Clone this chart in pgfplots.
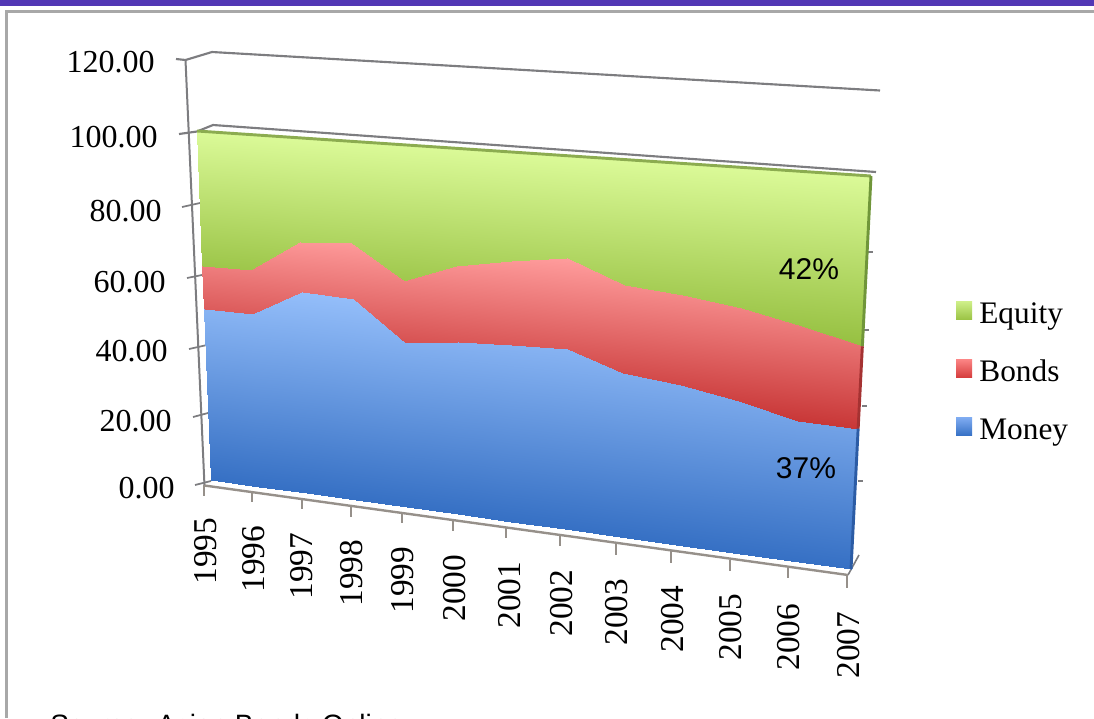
\documentclass[border=0pt]{standalone}
\usepackage{fontspec}
\usepackage{pgfplots}
\usepackage{pgfplotstable}
\pgfplotsset{compat=1.18}
\setmainfont{Liberation Serif}
\newfontfamily\arialfont{Liberation Sans}

% Stacked shares per year (percent): each year has the upper and the lower
% level of the band, in that order.
\pgfplotstableread{
year value
1995 100
1995 62.5
1996 100
1996 62.6
1997 100
1997 71.7
1998 100
1998 72.6
1999 100
1999 63.6
2000 100
2000 69.0
2001 100
2001 71.6
2002 100
2002 73.7
2003 100
2003 67.9
2004 100
2004 66.7
2005 100
2005 64.8
2006 100
2006 61.6
2007 100
2007 58.0
}\equitytable
\pgfplotstableread{
year value
1995 62.5
1995 50.2
1996 62.6
1996 50.2
1997 71.7
1997 57.8
1998 72.6
1998 57.3
1999 63.6
1999 46.6
2000 69.0
2000 48.4
2001 71.6
2001 49.1
2002 73.7
2002 49.6
2003 67.9
2003 44.7
2004 66.7
2004 43.2
2005 64.8
2005 40.7
2006 61.6
2006 37.2
2007 58.0
2007 37.0
}\bondstable
\pgfplotstableread{
year value
1995 50.2
1995 0
1996 50.2
1996 0
1997 57.8
1997 0
1998 57.3
1998 0
1999 46.6
1999 0
2000 48.4
2000 0
2001 49.1
2001 0
2002 49.6
2002 0
2003 44.7
2003 0
2004 43.2
2004 0
2005 40.7
2005 0
2006 37.2
2006 0
2007 37.0
2007 0
}\moneytable
% Edges of the stack
\pgfplotstableread{
year value
1995 100
2007 100
}\topedge
\pgfplotstableread{
year value
2007 100
2007 58
}\equityend
\pgfplotstableread{
year value
2007 58
2007 37
}\bondsend
\pgfplotstableread{
year value
2007 37
2007 0
}\moneyend

% Projection of the chart wall (year, level) onto the sheet, in sheet units.
\pgfmathdeclarefunction{wallx}{2}{%
  \pgfmathparse{(540.15*(#1-1995)/12-23.25*#2/100+211)/(1-0.11734*(#1-1995)/12-0.04696*#2/100)}}
\pgfmathdeclarefunction{wally}{2}{%
  \pgfmathparse{(22.23*(#1-1995)/12-355.15*#2/100+480)/(1-0.11734*(#1-1995)/12-0.04696*#2/100)}}
\newcommand\wallxexpr{wallx(\thisrow{year},\thisrow{value})}
\newcommand\wallyexpr{wally(\thisrow{year},\thisrow{value})}

\pgfplotsset{
  colormap={equitymap}{rgb255=(219,250,152) rgb255=(150,192,65)},
  colormap={bondsmap}{rgb255=(255,156,156) rgb255=(200,55,55)},
  colormap={moneymap}{rgb255=(148,190,250) rgb255=(54,112,196)},
}
\definecolor{framegray}{RGB}{168,168,168}
\definecolor{barpurple}{RGB}{83,56,181}
\definecolor{axisgray}{RGB}{125,125,128}
\definecolor{floorgray}{RGB}{150,144,138}
\definecolor{equitytop}{RGB}{205,238,135}
\definecolor{equitylow}{RGB}{156,196,70}
\definecolor{bondstop}{RGB}{250,130,130}
\definecolor{bondslow}{RGB}{214,62,62}
\definecolor{moneytop}{RGB}{125,170,240}
\definecolor{moneylow}{RGB}{56,114,198}
\definecolor{topgreen}{RGB}{140,172,80}
\definecolor{sidegreen}{RGB}{112,150,58}
\definecolor{sidered}{RGB}{165,50,50}
\definecolor{sideblue}{RGB}{44,92,165}

% Band shading runs over the band's own range of levels: #4 to #5
\newcommand\band[5]{%
  \addplot[surf, shader=interp, colormap name=#1, mesh/rows=13,
    point meta={(#4-\thisrow{value})/(#4-#5)},
    legend image code/.code={\path[draw=none, top color=#3top, bottom color=#3low]
      (0pt,-2.4pt) rectangle (12pt,10.4pt);
      \path[draw=none, fill=none] (0pt,0pt) -- (17.5pt,0pt);}]
    table[x expr=\wallxexpr, y expr=\wallyexpr] {#2};}
\newcommand\edge[2]{%
  \addplot[#1, line width=2.2pt, forget plot]
    table[x expr=\wallxexpr, y expr=\wallyexpr] {#2};}

\begin{document}
\begin{tikzpicture}
\useasboundingbox (0,0) rectangle (820.5pt,538.5pt);
\clip (0,0) rectangle (820.5pt,538.5pt);
\begin{axis}[
  at={(0,0)}, anchor=south west,
  scale only axis, width=820.5pt, height=538.5pt,
  xmin=0, xmax=1094, ymin=0, ymax=718, y dir=reverse,
  hide axis, clip=false,
  point meta min=0, point meta max=1,
  font=\fontsize{24}{28}\selectfont,
  legend style={
    at={(axis cs:956,300.5)}, anchor=north west, draw=none, fill=none,
    inner sep=0pt, outer sep=0pt, row sep=20.5pt,
    nodes={inner sep=0pt, text height=17pt, text depth=6pt},
    font=\fontsize{23.5}{27}\selectfont},
  legend cell align=left,
]
% Sheet furniture
\addplot[draw=none, fill=barpurple, forget plot] coordinates {(0,0) (1094,0) (1094,5.8) (0,5.8)} \closedcycle;
\addplot[framegray, line width=2pt, forget plot] coordinates {(6.5,718) (6.5,11.5) (1094,11.5)};

% Wall rules and value axis
\addplot[axisgray, line width=1.6pt, forget plot] coordinates {(176,59) (185.5,60) (212,52) (880,90.5)};
\addplot[axisgray, line width=1.6pt, forget plot] coordinates {(179,134) (197,131.5) (213,125) (876,172)};
\addplot[axisgray, line width=1.5pt, forget plot] coordinates {(185.5,60) (204.5,486)};
\addplot[axisgray, line width=1.3pt, forget plot] coordinates {(182,207) (200,203)};
\addplot[axisgray, line width=1.3pt, forget plot] coordinates {(187,278) (202,275)};
\addplot[axisgray, line width=1.3pt, forget plot] coordinates {(189,349) (207,345)};
\addplot[axisgray, line width=1.3pt, forget plot] coordinates {(193,417) (208,413)};
\addplot[axisgray, line width=1.3pt, forget plot] coordinates {(195,485) (211,481)};
% Stubs on the far edge
\addplot[axisgray, line width=1.2pt, forget plot] coordinates {(868,252) (873,252)};
\addplot[axisgray, line width=1.2pt, forget plot] coordinates {(864,330) (869,330)};
\addplot[axisgray, line width=1.2pt, forget plot] coordinates {(862,406) (867,406)};
\addplot[axisgray, line width=1.2pt, forget plot] coordinates {(858,481) (863,481)};
\addplot[axisgray, line width=1.2pt, forget plot] coordinates {(848,575) (859,555)};

% Stacked bands
\band{equitymap}{\equitytable}{equity}{100}{58}
\addlegendentry{Equity}
\band{bondsmap}{\bondstable}{bonds}{73.7}{37}
\addlegendentry{Bonds}
\band{moneymap}{\moneytable}{money}{57.8}{0}
\addlegendentry{Money}

% Lit top and dark end faces of the stack
\edge{topgreen}{\topedge}
\edge{sidegreen}{\equityend}
\edge{sidered}{\bondsend}
\edge{sideblue}{\moneyend}

% Floor rule and year ticks
\addplot[floorgray, line width=1.8pt, forget plot] coordinates {(204.5,485.5) (848,575)};
\addplot[floorgray, line width=1.3pt, forget plot] coordinates {(204,485) (204,496)};
\addplot[floorgray, line width=1.3pt, forget plot] coordinates {(251.7,492) (251.7,502)};
\addplot[floorgray, line width=1.3pt, forget plot] coordinates {(301.7,499) (301.7,509)};
\addplot[floorgray, line width=1.3pt, forget plot] coordinates {(351,506) (351,516.7)};
\addplot[floorgray, line width=1.3pt, forget plot] coordinates {(402,513) (402,523)};
\addplot[floorgray, line width=1.3pt, forget plot] coordinates {(453,520) (453,531)};
\addplot[floorgray, line width=1.3pt, forget plot] coordinates {(506,528) (506,538)};
\addplot[floorgray, line width=1.3pt, forget plot] coordinates {(560,535) (560,546)};
\addplot[floorgray, line width=1.3pt, forget plot] coordinates {(616,543) (616,555)};
\addplot[floorgray, line width=1.3pt, forget plot] coordinates {(671,551) (671,563)};
\addplot[floorgray, line width=1.3pt, forget plot] coordinates {(730,560) (730,571)};
\addplot[floorgray, line width=1.3pt, forget plot] coordinates {(788,568) (788,578)};
\addplot[floorgray, line width=1.3pt, forget plot] coordinates {(847,575) (847,588)};

% Value labels
\node[anchor=east, inner sep=0pt] at (axis cs:155,62) {120.00};
\node[anchor=east, inner sep=0pt] at (axis cs:158,137) {100.00};
\node[anchor=east, inner sep=0pt] at (axis cs:162,211) {80.00};
\node[anchor=east, inner sep=0pt] at (axis cs:166,282) {60.00};
\node[anchor=east, inner sep=0pt] at (axis cs:168,351) {40.00};
\node[anchor=east, inner sep=0pt] at (axis cs:172,421) {20.00};
\node[anchor=east, inner sep=0pt] at (axis cs:175,488) {0.00};

% Year labels
\begin{scope}[every node/.append style={rotate=90, inner sep=0pt, font=\fontsize{25}{29}\selectfont}]
\node at (axis cs:205.7,551) {1995};
\node at (axis cs:254,559) {1996};
\node at (axis cs:302,566) {1997};
\node at (axis cs:352,573) {1998};
\node at (axis cs:403,580) {1999};
\node at (axis cs:455,588) {2000};
\node at (axis cs:510,595) {2001};
\node at (axis cs:562,603) {2002};
\node at (axis cs:617,612) {2003};
\node at (axis cs:673,619) {2004};
\node at (axis cs:731,627) {2005};
\node at (axis cs:789,637) {2006};
\node at (axis cs:849,645) {2007};
\end{scope}

% Callouts and source line
\node[inner sep=0pt, font=\arialfont\fontsize{22.5}{26}\selectfont] at (axis cs:809,269) {42\%};
\node[inner sep=0pt, font=\arialfont\fontsize{22.5}{26}\selectfont] at (axis cs:806,468) {37\%};
\node[anchor=base west, inner sep=0pt, font=\arialfont\fontsize{21}{25}\selectfont] at (axis cs:50,734) {Source: Asian Bonds Online};
\end{axis}
\end{tikzpicture}
\end{document}
